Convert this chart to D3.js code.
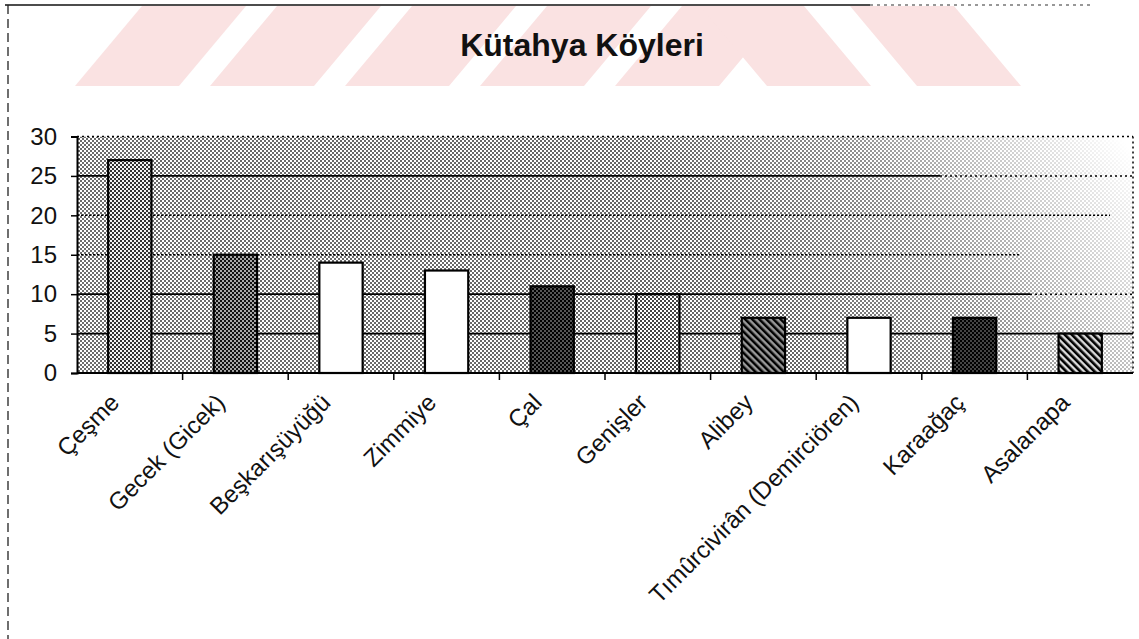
<!DOCTYPE html>
<html><head><meta charset="utf-8">
<script src="https://cdn.jsdelivr.net/npm/d3@7"></script>
<style>
html,body{margin:0;padding:0;background:#fff;}
svg{display:block;}
text{font-family:"Liberation Sans",Arial,sans-serif;fill:#111;}
</style></head>
<body>
<svg id="chart" width="1139" height="639"></svg>
<script>
const title = "Kütahya Köyleri";
const categories = ["Çeşme","Gecek (Gicek)","Beşkarışüyüğü","Zimmiye","Çal","Genişler","Alibey","Tımûrcivirân (Demirciören)","Karaağaç","Asalanapa"];
const values = [27, 15, 14, 13, 11, 10, 7, 7, 7, 5];
const yTicks = [0, 5, 10, 15, 20, 25, 30];
const barStyles = ["url(#dotsMid)","url(#dotsDark)","#fff","#fff","url(#dotsBlack)","url(#dotsLight)","url(#hatchDark)","#fff","url(#dotsBlack2)","url(#hatch)"];

const svg = d3.select("#chart");
const m = {left: 77, right: 1133, top: 136.5, bottom: 373};

const defs = svg.append("defs");
function checker(id, tile, bg, fg) {
  const p = defs.append("pattern").attr("id", id).attr("patternUnits","userSpaceOnUse")
    .attr("width", tile*2).attr("height", tile*2);
  p.append("rect").attr("width", tile*2).attr("height", tile*2).attr("fill", bg);
  p.append("rect").attr("x",0).attr("y",0).attr("width",tile).attr("height",tile).attr("fill",fg);
  p.append("rect").attr("x",tile).attr("y",tile).attr("width",tile).attr("height",tile).attr("fill",fg);
}
checker("dotsMid", 2, "#f4f4f4", "#333");
checker("dotsDark", 2, "#a8a8a8", "#111");
checker("dotsBlack", 2, "#555", "#000");
checker("dotsBlack2", 2, "#444", "#000");
checker("dotsLight", 2, "#ffffff", "#444");
function hatch(id, bg, w) {
  const p = defs.append("pattern").attr("id", id).attr("patternUnits","userSpaceOnUse")
    .attr("width", 5).attr("height", 5).attr("patternTransform","rotate(-45)");
  p.append("rect").attr("width",5).attr("height",5).attr("fill",bg);
  p.append("rect").attr("x",0).attr("y",0).attr("width",w).attr("height",5).attr("fill","#000");
}
hatch("hatchDark", "#999", 2.5);
hatch("hatch", "#dcdcdc", 2.6);

// background halftone
checker("bgDots", 2, "#ffffff", "#000");
const grad = defs.append("linearGradient").attr("id","bgGrad").attr("gradientUnits","userSpaceOnUse")
  .attr("x1", m.left).attr("y1", m.bottom).attr("x2", m.right).attr("y2", -400);
[[0,"#929292"],[0.45,"#9a9a9a"],[0.58,"#707070"],[0.66,"#383838"],[0.75,"#000"],[1,"#000"]]
  .forEach(([o,c]) => grad.append("stop").attr("offset", o).attr("stop-color", c));
const mask = defs.append("mask").attr("id","bgMask").attr("maskUnits","userSpaceOnUse")
  .attr("x",0).attr("y",0).attr("width",1139).attr("height",639);
mask.append("rect").attr("x", m.left).attr("y", m.top).attr("width", m.right-m.left).attr("height", m.bottom-m.top).attr("fill","url(#bgGrad)");

// watermark stripes
const wm = svg.append("g").attr("fill","#fae2e2");
const stripeBottoms = [75, 210, 345, 480, 615];
stripeBottoms.forEach(b => {
  wm.append("path").attr("d", `M${b},86 L${b+104},86 L${b+171},6 L${b+67},6 Z`);
});
[700, 850].forEach(t => {
  wm.append("path").attr("d", `M${t},6 L${t+104},6 L${t+171},86 L${t+67},86 Z`);
});

// outer border
svg.append("line").attr("x1",5).attr("x2",870).attr("y1",5).attr("y2",5).attr("stroke","#111").attr("stroke-width",1.5);
svg.append("line").attr("x1",870).attr("x2",1090).attr("y1",5).attr("y2",5).attr("stroke","#333").attr("stroke-width",1.2).attr("stroke-dasharray","3,4");
svg.append("line").attr("x1",8).attr("x2",8).attr("y1",5).attr("y2",639).attr("stroke","#222").attr("stroke-width",1.3).attr("stroke-dasharray","9,5");

// title
svg.append("text").attr("x", 582).attr("y", 56).attr("text-anchor","middle")
  .attr("font-size", 32).attr("font-weight","bold").text(title);

const x = d3.scaleBand().domain(categories).range([m.left, m.right]).paddingInner(0.59).paddingOuter(0.295);
const xb = d3.scaleBand().domain(categories).range([m.left, m.right]).padding(0);
const y = d3.scaleLinear().domain([0, 30]).range([m.bottom, m.top]);

// plot background
svg.append("rect").attr("x", m.left).attr("y", m.top).attr("width", m.right-m.left).attr("height", m.bottom-m.top)
  .attr("fill","#fff");
svg.append("rect").attr("x", m.left).attr("y", m.top).attr("width", m.right-m.left).attr("height", m.bottom-m.top)
  .attr("fill","url(#bgDots)").attr("mask","url(#bgMask)");

// gridlines
const solidTo = {25: 940, 10: 1030, 5: 1133};
const grid = svg.append("g");
yTicks.filter(t => t > 0).forEach(t => {
  if (t === 25 || t === 10 || t === 5) {
    grid.append("line").attr("x1", m.left).attr("x2", solidTo[t]).attr("y1", y(t)).attr("y2", y(t))
      .attr("stroke","#000").attr("stroke-width",1.8);
    if (solidTo[t] < m.right)
      grid.append("line").attr("x1", solidTo[t]).attr("x2", m.right).attr("y1", y(t)).attr("y2", y(t))
        .attr("stroke","#000").attr("stroke-width",1.5).attr("stroke-dasharray","2,3");
  } else if (t === 30) {
    grid.append("line").attr("x1", m.left).attr("x2", m.right).attr("y1", y(t)).attr("y2", y(t))
      .attr("stroke","#000").attr("stroke-width",1.5).attr("stroke-dasharray","2,3");
  } else {
    grid.append("line").attr("x1", m.left).attr("x2", t === 20 ? 1110 : 1020).attr("y1", y(t)).attr("y2", y(t))
      .attr("stroke","#000").attr("stroke-width",1.5).attr("stroke-dasharray","2,2");
  }
});
svg.append("line").attr("x1", m.right).attr("x2", m.right).attr("y1", m.top).attr("y2", m.bottom)
  .attr("stroke","#000").attr("stroke-width",1.5).attr("stroke-dasharray","2,3");

// bars
svg.append("g").selectAll("rect").data(values).join("rect")
  .attr("x", (d,i) => x(categories[i]))
  .attr("y", d => y(d))
  .attr("width", x.bandwidth())
  .attr("height", d => y(0) - y(d))
  .attr("fill", (d,i) => barStyles[i])
  .attr("stroke","#000").attr("stroke-width",2.2);

// y axis
const yAxis = d3.axisLeft(y).tickValues(yTicks).tickSize(6).tickPadding(14);
const gy = svg.append("g").attr("transform", `translate(${m.left},0)`).call(yAxis);
gy.select(".domain").attr("stroke","#000").attr("stroke-width",2);
gy.selectAll(".tick line").attr("stroke","#000").attr("stroke-width",1.5);
gy.selectAll(".tick text").attr("font-size", 24).attr("font-family",'"Liberation Sans",Arial,sans-serif').attr("fill","#111");

// x axis
const gx = svg.append("g").attr("transform", `translate(0,${m.bottom})`);
gx.append("line").attr("x1", m.left).attr("x2", m.right).attr("stroke","#000").attr("stroke-width",2);
gx.selectAll(".xt").data(categories.slice(1)).join("line").attr("class","xt")
  .attr("x1", d => xb(d)).attr("x2", d => xb(d)).attr("y1", 0).attr("y2", 7)
  .attr("stroke","#000").attr("stroke-width",1.5);
gx.selectAll(".xl").data(categories).join("text").attr("class","xl")
  .attr("text-anchor","end")
  .attr("font-size", 24)
  .attr("transform", d => `translate(${xb(d) + xb.bandwidth()/2 - 9},31) rotate(-45)`)
  .text(d => d);
</script>
</body></html>
